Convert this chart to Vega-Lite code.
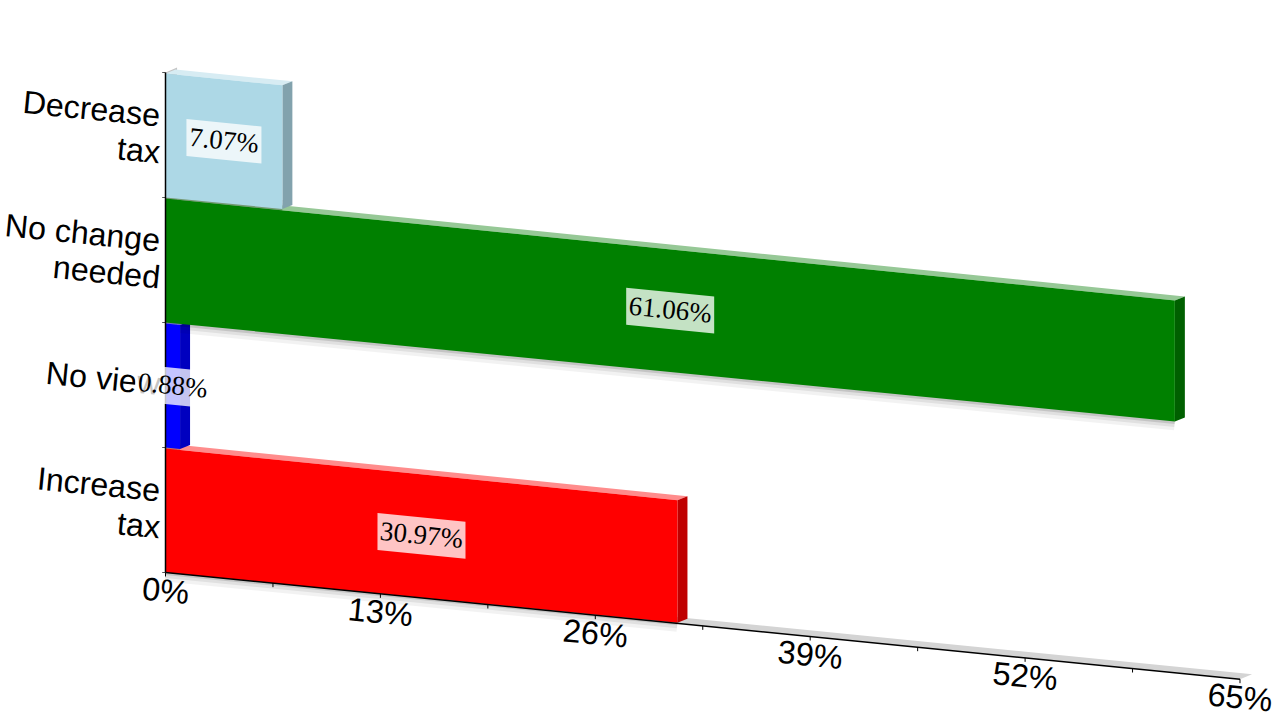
{
"$schema":"https://vega.github.io/schema/vega-lite/v6.json",
"width":1280,"height":720,"padding":0,
"autosize":{"type":"fit","contains":"padding"},
"background":"white",
"view":{"stroke":null},
"datasets":{
"bars":[
{"answer":"Increase tax","slot":0,"share":30.97,"label":"30.97%"},
{"answer":"No view","slot":1,"share":0.88,"label":"0.88%"},
{"answer":"No change needed","slot":2,"share":61.06,"label":"61.06%"},
{"answer":"Decrease tax","slot":3,"share":7.07,"label":"7.07%"}],
"ticks":[{"tick":0,"text":"0%"},{"tick":6.5,"text":""},{"tick":13,"text":"13%"},{"tick":19.5,"text":""},{"tick":26,"text":"26%"},{"tick":32.5,"text":""},{"tick":39,"text":"39%"},{"tick":45.5,"text":""},{"tick":52,"text":"52%"},{"tick":58.5,"text":""},{"tick":65,"text":"65%"}],
"cats":[
{"slot":3,"text":"Decrease","line":1},{"slot":3,"text":"tax","line":-1},
{"slot":2,"text":"No change","line":1},{"slot":2,"text":"needed","line":-1},
{"slot":1,"text":"No view","line":0},
{"slot":0,"text":"Increase","line":1},{"slot":0,"text":"tax","line":-1}],
"slots":[{"slot":0},{"slot":1},{"slot":2},{"slot":3},{"slot":4}]
},
"encoding":{
"x":{"field":"pos","type":"quantitative","scale":{"domain":[-10.012,67.42],"nice":false,"zero":false},"axis":null,"title":null},
"y":{"field":"upper","type":"quantitative","scale":{"domain":[-1.18,4.58],"nice":false,"zero":false},"axis":null,"title":null,"stack":null}
},
"layer":[
{"data":{"values":[{"depth":0},{"depth":0.7}]},
"transform":[{"calculate":"datum.depth","as":"pos"},{"calculate":"4+0.04*datum.depth/0.7","as":"upper"},{"calculate":"0.04*datum.depth/0.7","as":"lower"}],
"mark":{"type":"area","orient":"vertical","color":"#c4c4c4"},
"encoding":{"y2":{"field":"lower"}}},
{"data":{"values":[{"share":65}]},
"transform":[{"calculate":"0","as":"s0"},{"calculate":"0.73","as":"s1"},{"calculate":"datum.share","as":"s2"},{"calculate":"datum.share+0.73","as":"s3"},
{"fold":["s0","s1","s2","s3"],"as":["station","pos"]},
{"calculate":"datum.pos<=0.73?0.04*datum.pos/0.73:-0.01313*(datum.pos-0.73)+0.04","as":"upper"},
{"calculate":"datum.pos<=datum.share?-0.01313*datum.pos:-0.01313*datum.share+0.04","as":"lower"}],
"mark":{"type":"area","orient":"vertical","color":"#d4d4d4"},
"encoding":{"y2":{"field":"lower"}}},
{"data":{"name":"bars"},
"transform":[{"calculate":"datum.slot+0.992","as":"T"},{"calculate":"0","as":"s0"},{"calculate":"0.605","as":"s1"},{"calculate":"datum.share","as":"s2"},{"calculate":"datum.share+0.605","as":"s3"},
{"fold":["s0","s1","s2","s3"],"as":["station","pos"]},
{"calculate":"datum.pos<=0.605?datum.T+0.032*datum.pos/0.605:datum.T-0.01335*(datum.pos-0.605)+0.032","as":"upper"},
{"calculate":"datum.pos<=datum.share?datum.T-0.01335*datum.pos:datum.T-0.01335*datum.share+0.032","as":"lower"}],
"mark":{"type":"area","orient":"vertical"},
"encoding":{"y2":{"field":"lower"},
"color":{"field":"answer","type":"nominal","legend":null,"scale":{"domain":["Increase tax","No view","No change needed","Decrease tax"],"range":["#ff8c8c","#8c8cff","#96c896","#d7ecf3"]}}}},
{"data":{"name":"bars"},
"transform":[{"calculate":"datum.slot+0.992","as":"T"},{"calculate":"datum.share","as":"s0"},{"calculate":"datum.share+0.605","as":"s1"},
{"fold":["s0","s1"],"as":["station","pos"]},
{"calculate":"datum.T-0.01335*datum.share+0.032*(datum.pos-datum.share)/0.605","as":"upper"},
{"calculate":"datum.slot-0.01296*datum.share+0.032*(datum.pos-datum.share)/0.605","as":"lower"}],
"mark":{"type":"area","orient":"vertical"},
"encoding":{"y2":{"field":"lower"},
"color":{"field":"answer","type":"nominal","legend":null,"scale":{"domain":["Increase tax","No view","No change needed","Decrease tax"],"range":["#bf0000","#0000bf","#006000","#82a2ad"]}}}},
{"data":{"name":"bars"},
"transform":[{"calculate":"0","as":"s0"},{"calculate":"datum.share","as":"s1"},{"fold":["s0","s1"],"as":["station","pos"]},{"calculate":"datum.slot-0.01296*datum.pos","as":"upper"}],
"mark":{"type":"line","strokeWidth":18,"color":"#000000","opacity":0.05,"strokeCap":"butt"},
"encoding":{"detail":{"field":"answer"}}},
{"data":{"name":"bars"},
"transform":[{"calculate":"0","as":"s0"},{"calculate":"datum.share","as":"s1"},{"fold":["s0","s1"],"as":["station","pos"]},{"calculate":"datum.slot-0.01296*datum.pos","as":"upper"}],
"mark":{"type":"line","strokeWidth":11,"color":"#000000","opacity":0.07,"strokeCap":"butt"},
"encoding":{"detail":{"field":"answer"}}},
{"data":{"name":"bars"},
"transform":[{"calculate":"0","as":"s0"},{"calculate":"datum.share","as":"s1"},{"fold":["s0","s1"],"as":["station","pos"]},{"calculate":"datum.slot-0.01296*datum.pos","as":"upper"}],
"mark":{"type":"line","strokeWidth":5,"color":"#000000","opacity":0.12,"strokeCap":"butt"},
"encoding":{"detail":{"field":"answer"}}},
{"data":{"name":"bars"},
"transform":[{"calculate":"0","as":"s0"},{"calculate":"datum.share","as":"s1"},{"fold":["s0","s1"],"as":["station","pos"]},
{"calculate":"datum.slot+0.992-0.01335*datum.pos","as":"upper"},{"calculate":"datum.slot-0.01296*datum.pos","as":"lower"}],
"mark":{"type":"area","orient":"vertical"},
"encoding":{"y2":{"field":"lower"},
"color":{"field":"answer","type":"nominal","legend":null,"scale":{"domain":["Increase tax","No view","No change needed","Decrease tax"],"range":["#ff0000","#0000ff","#008000","#add8e6"]}}}},
{"data":{"name":"slots"},
"transform":[{"calculate":"-0.2","as":"pos"},{"calculate":"0","as":"pos2"},{"calculate":"datum.slot","as":"upper"}],
"mark":{"type":"rule","color":"#555555","strokeWidth":1},
"encoding":{"x2":{"field":"pos2"}}},
{"data":{"values":[{"pos":0}]},
"transform":[{"calculate":"4","as":"upper"},{"calculate":"0","as":"lower"}],
"mark":{"type":"rule","color":"#000000","strokeWidth":1.5},
"encoding":{"y2":{"field":"lower"}}},
{"data":{"values":[{"pos":0}]},
"transform":[{"calculate":"65","as":"pos2"},{"calculate":"0","as":"upper"},{"calculate":"-0.01313*65","as":"lower"}],
"mark":{"type":"rule","color":"#000000","strokeWidth":1.5},
"encoding":{"x2":{"field":"pos2"},"y2":{"field":"lower"}}},
{"data":{"name":"ticks"},
"transform":[{"calculate":"datum.tick","as":"pos"},{"calculate":"-0.01313*datum.pos","as":"upper"},{"calculate":"datum.upper-0.032","as":"lower"}],
"mark":{"type":"rule","color":"#000000","strokeWidth":1},
"encoding":{"y2":{"field":"lower"}}},
{"data":{"name":"ticks"},
"transform":[{"filter":"datum.text!=''"},{"calculate":"datum.tick","as":"pos"},{"calculate":"-0.01313*datum.pos-0.155","as":"upper"}],
"mark":{"type":"text","font":"Liberation Sans","fontSize":32.5,"angle":5.67,"align":"center","baseline":"middle","color":"#000000"},
"encoding":{"text":{"field":"text"}}},
{"data":{"name":"cats"},
"transform":[{"calculate":"-0.333","as":"pos"},{"calculate":"datum.slot+0.5+datum.line*0.148","as":"upper"}],
"mark":{"type":"text","font":"Liberation Sans","fontSize":32.2,"angle":5.67,"align":"right","baseline":"middle","color":"#000000"},
"encoding":{"text":{"field":"text"}}},
{"data":{"name":"bars"},
"transform":[{"calculate":"(length(datum.label)*13+10)/2/16.53","as":"half"},{"calculate":"datum.share/2-datum.half","as":"s0"},{"calculate":"datum.share/2+datum.half","as":"s1"},
{"fold":["s0","s1"],"as":["station","pos"]},
{"calculate":"datum.slot+0.496+0.148-0.01313*datum.pos","as":"upper"},{"calculate":"datum.slot+0.496-0.148-0.01313*datum.pos","as":"lower"}],
"mark":{"type":"area","orient":"vertical","color":"#ffffff","opacity":0.77},
"encoding":{"y2":{"field":"lower"},"detail":{"field":"answer"}}},
{"data":{"name":"bars"},
"transform":[{"calculate":"datum.share/2","as":"pos"},{"calculate":"datum.slot+0.496-0.01313*datum.pos","as":"upper"}],
"mark":{"type":"text","font":"Liberation Serif","fontSize":27,"angle":5.67,"align":"center","baseline":"middle","color":"#000000"},
"encoding":{"text":{"field":"label"}}}
],
"resolve":{"scale":{"color":"independent"}}
}
